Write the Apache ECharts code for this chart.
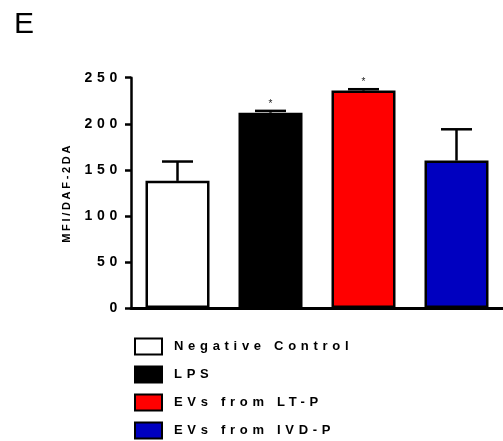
<!DOCTYPE html>
<html><head><meta charset="utf-8">
<script src="https://cdn.jsdelivr.net/npm/echarts@6/dist/echarts.min.js"></script>
<style>html,body{margin:0;padding:0;background:#fff}#c{width:503px;height:441px}</style>
</head><body><div id="c"></div>
<script>
const categories = ['Negative Control', 'LPS', 'EVs from LT-P', 'EVs from IVD-P'];
const means = [138, 212, 236, 160];
const errors = [21, 2, 1.5, 34];
const stars = ['', '*', '*', ''];
const colors = ['#ffffff', '#000000', '#ff0000', '#0000c0'];
const yTicks = [0, 50, 100, 150, 200, 250];

// wide letter tracking, as in the reference (applied by font size)
(function () {
  const proto = CanvasRenderingContext2D.prototype;
  if (!('letterSpacing' in proto)) return;
  const spacingFor = function (f) {
    const m = /(\d+(?:\.\d+)?)px/.exec(f || '');
    if (!m) return '0px';
    const s = +m[1];
    if (s === 14 || s === 13) return '4.7px';
    if (s === 11) return '2.7px';
    return '0px';
  };
  ['fillText', 'strokeText', 'measureText'].forEach(function (k) {
    const orig = proto[k];
    proto[k] = function () { this.letterSpacing = spacingFor(this.font); return orig.apply(this, arguments); };
  });
})();

const FONT = 'Liberation Sans, Arial, sans-serif';
const chart = echarts.init(document.getElementById('c'));
const barSeries = categories.map((name, i) => ({
  name: name,
  type: 'bar',
  barWidth: 64,
  barGap: '-100%',
  data: categories.map((_, j) => j === i ? means[i] : '-'),
  itemStyle: { color: colors[i], borderColor: '#000', borderWidth: 2.5 },
  z: 2
}));
const errSeries = {
  type: 'custom',
  name: 'err',
  data: categories.map((_, i) => [i, means[i], errors[i]]),
  z: 5,
  renderItem: function (params, api) {
    const x = api.value(0), m = api.value(1), e = api.value(2);
    const base = api.coord([x, m]);
    const top = api.coord([x, m + e]);
    const half = 15.5;
    const children = [
      { type: 'line', shape: { x1: base[0], y1: base[1], x2: top[0], y2: top[1] }, style: { stroke: '#000', lineWidth: 2.5 } },
      { type: 'line', shape: { x1: top[0] - half, y1: top[1], x2: top[0] + half, y2: top[1] }, style: { stroke: '#000', lineWidth: 2.5 } }
    ];
    const s = stars[params.dataIndex];
    if (s) {
      children.push({ type: 'text', style: { text: s, x: top[0], y: top[1] - 2, textAlign: 'center', textVerticalAlign: 'bottom', font: '10px ' + FONT, fill: '#222' } });
    }
    return { type: 'group', children: children };
  }
};

const legends = categories.map((c, i) => ({
  data: [c],
  orient: 'vertical',
  left: 134, top: 337.5 + 28 * i,
  padding: 0,
  itemWidth: 27, itemHeight: 16,
  icon: 'rect',
  textStyle: { fontSize: 13, fontWeight: 'bold', color: '#000', fontFamily: FONT, lineHeight: 16, padding: [1, 0, 0, 7] },
  selectedMode: false
}));

chart.setOption({
  animation: false,
  graphic: [{ type: 'text', left: 14, top: 10, style: { text: 'E', font: '30px ' + FONT, fill: '#000' } }],
  grid: { left: 131, right: -4, top: 77.7, bottom: 133 },
  legend: legends,
  xAxis: {
    type: 'category', data: categories,
    axisLine: { lineStyle: { color: '#000', width: 3 } },
    axisTick: { show: false }, axisLabel: { show: false }
  },
  yAxis: {
    type: 'value', min: yTicks[0], max: yTicks[yTicks.length - 1], interval: 50,
    name: 'MFI/DAF-2DA', nameLocation: 'middle', nameGap: 56,
    nameTextStyle: { fontSize: 11, fontWeight: 'bold', color: '#000', fontFamily: FONT },
    axisLine: { show: true, lineStyle: { color: '#000', width: 2.5 } },
    axisTick: { show: true, length: 6, lineStyle: { color: '#000', width: 2.5 } },
    axisLabel: { fontSize: 14, fontWeight: 'bold', color: '#000', margin: 9, fontFamily: FONT },
    splitLine: { show: false }
  },
  series: barSeries.concat([errSeries])
});
</script></body></html>
